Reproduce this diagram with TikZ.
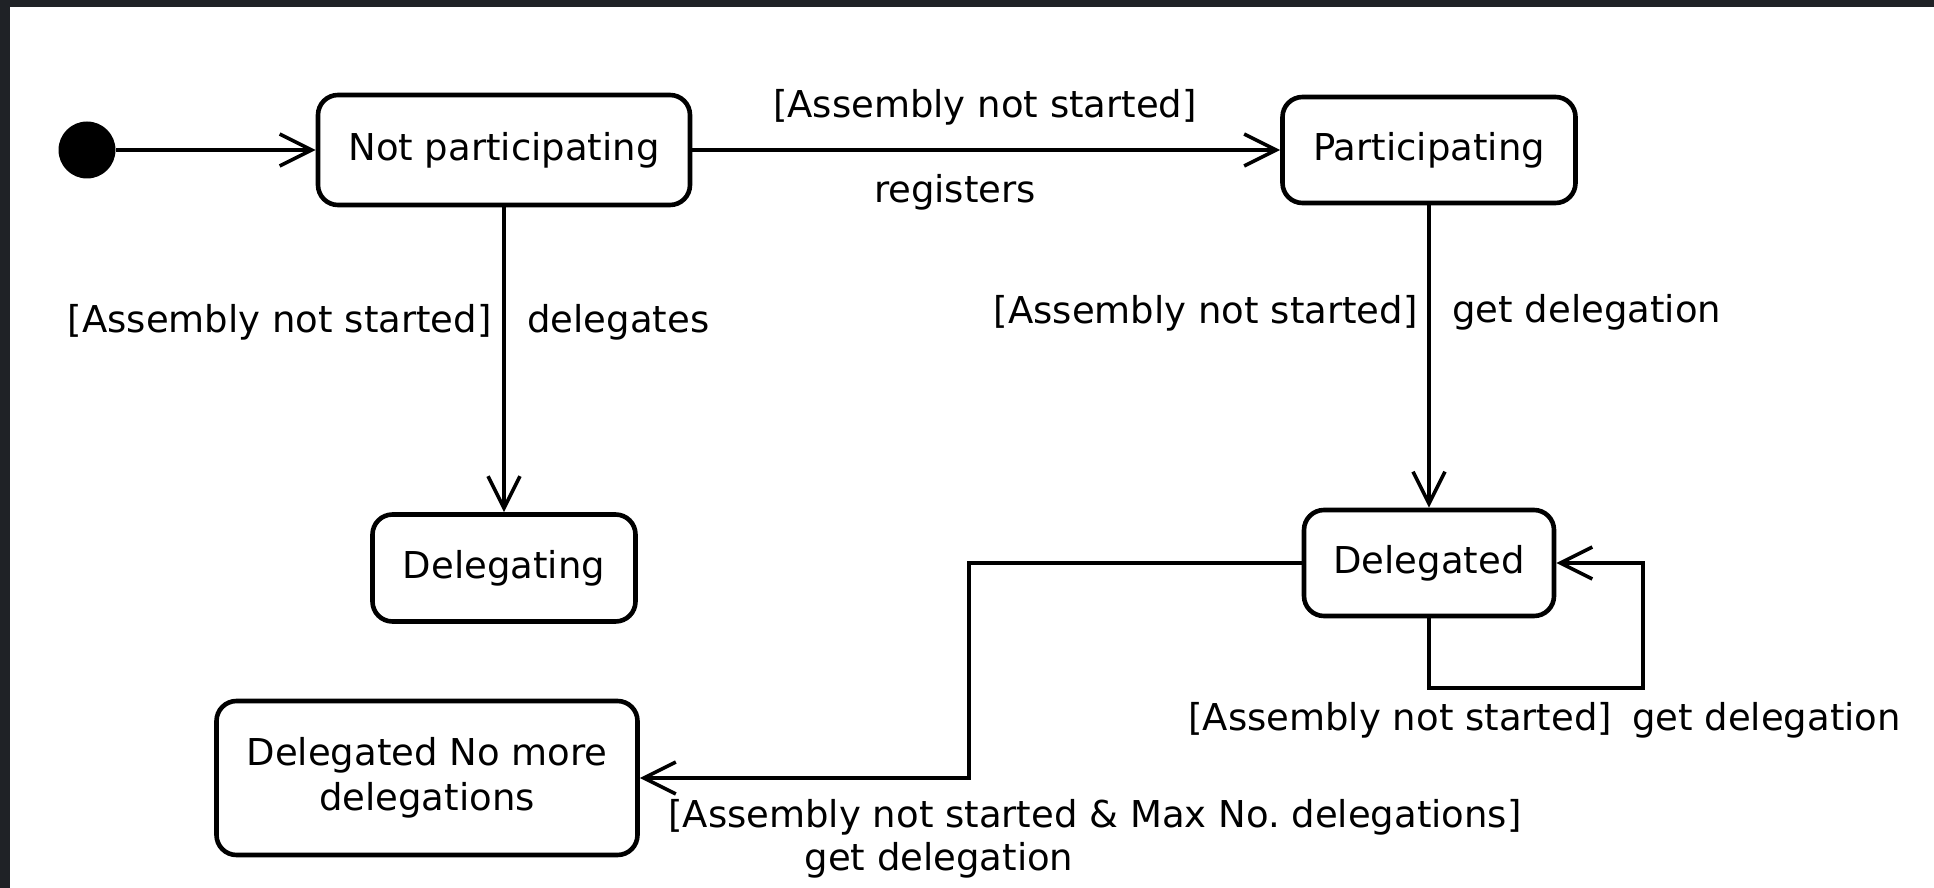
\documentclass[tikz,border=0pt]{standalone}
\usepackage{fontspec}
\setmainfont{DejaVu Sans}
\usetikzlibrary{arrows.meta}
\definecolor{framedark}{HTML}{1F2226}
\frenchspacing
\begin{document}
\begin{tikzpicture}[x=0.5pt,y=-0.5pt,
  every node/.style={font=\fontsize{18.5}{22.5}\selectfont},
  state/.style={draw, line width=2.3pt, rounded corners=10pt, fill=white, align=center, inner sep=0pt},
  lbl/.style={inner sep=0pt},
  trans/.style={draw, line width=1.8pt, -{Straight Barb[length=16pt,width=16pt,line width=1.8pt]}},
]
\useasboundingbox (0,0) rectangle (1934,888);
\fill[white] (0,0) rectangle (1934,888);
\fill[framedark] (0,0) rectangle (1934,7);
\fill[framedark] (0,0) rectangle (10,888);

% states
\node[circle, fill=black, minimum size=28.5pt, inner sep=0pt] (init) at (87,150) {};
\node[state, minimum width=186pt, minimum height=55pt] (np) at (504,150) {Not participating};
\node[state, minimum width=146.5pt, minimum height=53pt] (p) at (1429,150) {Participating};
\node[state, minimum width=131.5pt, minimum height=53.5pt] (dg) at (504,568) {Delegating};
\node[state, minimum width=125pt, minimum height=53pt] (dd) at (1429,563) {Delegated};
\node[state, minimum width=210.5pt, minimum height=77pt] (dnm) at (427,778) {Delegated No more\\delegations};

% bend points
\coordinate (loopc) at (1643,688);
\coordinate (bend) at (969,563);

% transitions
\draw[trans, line width=2.2pt] (init) -- (np);
\draw[trans] (np) -- (p);
\draw[trans] (np) -- (dg);
\draw[trans] (p) -- (dd);
\draw[trans] (dd.south) |- (loopc) |- (dd.east);
\draw[trans] (dd.west) -- (bend) |- (dnm.east);

% transition labels
\node[lbl] (l1a) at (985,107) {[Assembly not started]};
\node[lbl] (l1b) at (955,192) {registers};
\node[lbl, anchor=east] (l2a) at (492,322) {[Assembly not started]};
\node[lbl, anchor=west] (l2b) at (527,322) {delegates};
\node[lbl, anchor=east] (l3a) at (1418,313) {[Assembly not started]};
\node[lbl, anchor=west] (l3b) at (1452,312) {get delegation};
\node[lbl, anchor=west] (l4) at (1188,720) {[Assembly not started]\hspace{10pt}get delegation};
\node[lbl, anchor=west] (l5a) at (668,817) {[Assembly not started \& Max No. delegations]};
\node[lbl] (l5b) at (939,860) {get delegation};
\end{tikzpicture}
\end{document}
